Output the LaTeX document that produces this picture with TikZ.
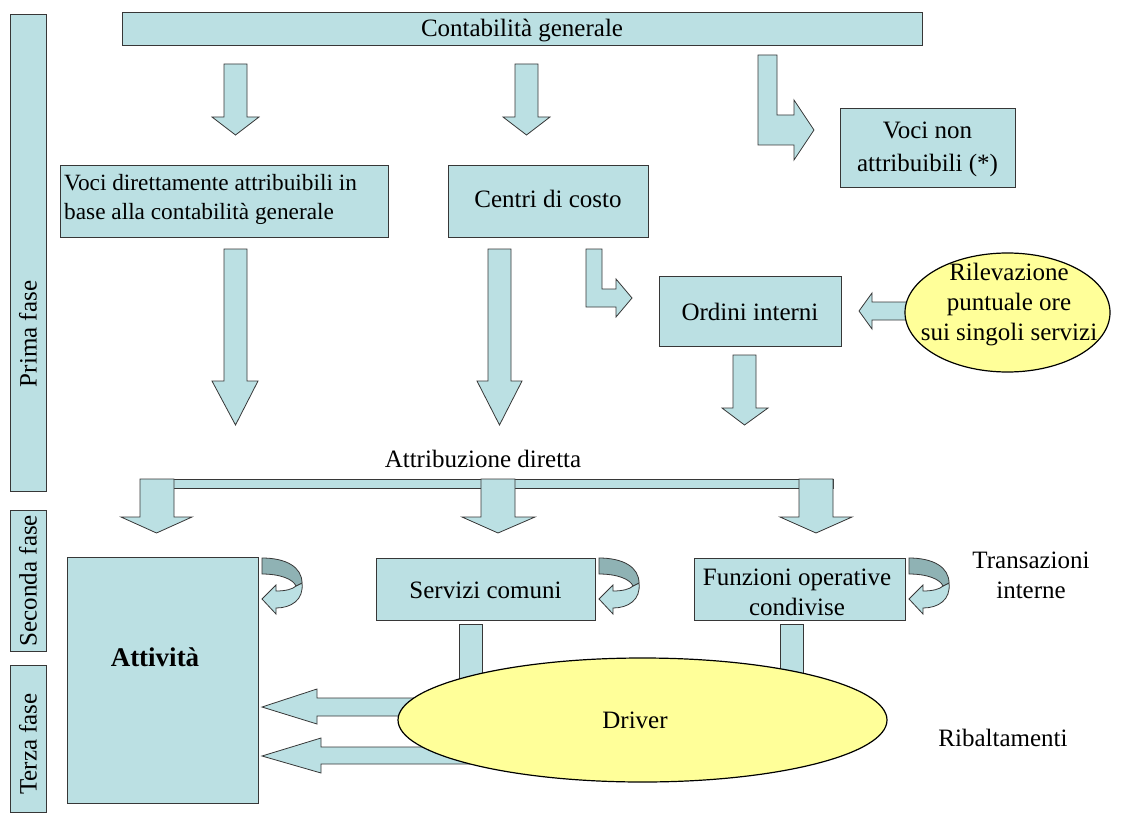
\documentclass[tikz,border=0pt]{standalone}
\usepackage{fontspec}
\setmainfont{Liberation Serif}
\usetikzlibrary{shapes.geometric}
\definecolor{teal1}{RGB}{187,224,227}
\definecolor{tealdark}{RGB}{143,178,180}
\definecolor{yel}{RGB}{255,255,153}
\definecolor{bord}{RGB}{55,55,55}
\tikzset{
  txt/.style={font=\fontsize{25}{30}\selectfont, inner sep=0pt, align=center},
  boxst/.style={draw=bord, fill=teal1, line width=0.8pt, rectangle, inner sep=0pt, font=\fontsize{25}{30}\selectfont, align=center},
  barrow/.style={draw=bord, fill=teal1, line width=0.8pt, line join=miter},
  ellst/.style={draw=black, fill=yel, line width=1.2pt, ellipse, inner sep=0pt},
}
\newcommand\dnarr[8]{% xl xr ytop yback hl hr tipx tipy
  \draw[barrow] (#1,#3) -- (#2,#3) -- (#2,#4) -- (#6,#4) -- (#7,#8) -- (#5,#4) -- (#1,#4) -- cycle;}
\newcommand\curvarr[1]{%
  \begin{scope}[shift={(#1,558)}]
    \draw[barrow] (44,25) .. controls (46,42) and (33,50) .. (18,50) -- (18,56) -- (4,41) -- (18,27) -- (18,33) .. controls (28,33) and (35,31) .. (38,28) -- cycle;
    \draw[draw=bord, fill=tealdark, line width=0.8pt] (4,0) .. controls (28,0) and (44,9) .. (44,25) -- (38,28) .. controls (35,21) and (22,16) .. (4,16) -- cycle;
  \end{scope}}
\begin{document}
\begin{tikzpicture}[x=1pt,y=-1pt]
\useasboundingbox (0,0) rectangle (1131,813);

% phase boxes
\node[boxst, minimum width=36pt, minimum height=477pt] (pf) at (28,252.5) {};
\node[txt, rotate=90] (pft) at (28,334) {Prima fase};
\node[boxst, minimum width=36pt, minimum height=141pt] (sf) at (28,580.5) {};
\node[txt, rotate=90] (sft) at (sf.center) {Seconda fase};
\node[boxst, minimum width=36pt, minimum height=147pt] (tf) at (28,738.5) {};
\node[txt, rotate=90] (tft) at (28,744) {Terza fase};

% top box
\node[boxst, minimum width=800pt, minimum height=33pt] (cg) at (522,28.5) {};
\node[txt] (cgt) at (522,31) {Contabilità generale};

% arrows from top
\dnarr{224}{247}{64}{117}{212}{259}{235.5}{135}
\dnarr{515}{538}{64}{117}{503}{550}{526.5}{135}
\draw[barrow] (758,55) -- (777,55) -- (777,115) -- (794,115) -- (794,100) -- (814,130) -- (794,160) -- (794,145) -- (758,145) -- cycle;

\node[boxst, minimum width=175pt, minimum height=79pt] (vna) at (927.5,147.5) {};
\node[txt] (vnat) at (927.5,149) {Voci non\\[3pt]attribuibili (*)};
\node[boxst, minimum width=328pt, minimum height=72pt] (vda) at (224,201) {};
\node[txt, font=\fontsize{23.3}{29}\selectfont, align=left, anchor=west] (vdat) at (64,199) {Voci direttamente attribuibili in\\base alla contabilità generale};
\node[boxst, minimum width=200pt, minimum height=72pt] (cdc) at (548,201) {};
\node[txt] (cdct) at (548,199) {Centri di costo};

% long arrows
\dnarr{224}{247}{249}{381}{212}{258}{235.5}{425}
\dnarr{488}{511}{249}{381}{477}{522}{499.5}{425}
\draw[barrow] (586,249) -- (602,249) -- (602,289) -- (616,289) -- (616,279) -- (632,298) -- (616,317) -- (616,307) -- (586,307) -- cycle;

\node[boxst, minimum width=182pt, minimum height=70pt] (oi) at (750,311) {};
\node[txt] (oit) at (750,312) {Ordini interni};
\draw[barrow] (915,302) -- (872,302) -- (872,293) -- (859,311) -- (872,329) -- (872,320) -- (915,320);
\node[ellst, minimum width=205pt, minimum height=119pt] (ril) at (1007.5,312.5) {};
\node[txt] (rilt) at (1009,305) {Rilevazione\\puntuale ore\\sui singoli servizi};
\dnarr{733}{756}{355}{408}{722}{768}{744.5}{425}

% attribuzione diretta
\node[txt] (ad) at (483,459) {Attribuzione diretta};
\draw[barrow] (140,479) rectangle (833,488);
\dnarr{140}{174}{479}{517}{121}{192}{156.5}{533}
\dnarr{481}{515}{479}{517}{462}{535}{498}{533}
\dnarr{799}{833}{479}{517}{780}{852}{816}{533}

% second phase boxes
\node[boxst, minimum width=191pt, minimum height=246pt] (att) at (162.5,680) {};
\node[txt, font=\fontsize{27}{31}\selectfont\bfseries] (attt) at (155,657) {Attività};
\node[boxst, minimum width=219pt, minimum height=62pt] (sc) at (485.5,589) {};
\node[txt] (sct) at (485.5,590) {Servizi comuni};
\node[boxst, minimum width=211pt, minimum height=62pt] (foc) at (799.5,589) {};
\node[txt] (foct) at (797,592) {Funzioni operative\\condivise};
\curvarr{258}
\curvarr{595}
\curvarr{905}
\node[txt] (ti) at (1031,575) {Transazioni\\interne};

% shafts and left arrows behind driver
\draw[barrow] (459,624) rectangle (482,710);
\draw[barrow] (780,624) rectangle (803,700);
\draw[barrow] (480,698) -- (317,698) -- (317,689) -- (262,707) -- (317,724) -- (317,716) -- (480,716);
\draw[barrow] (560,747) -- (321,747) -- (321,738) -- (262,756) -- (321,773) -- (321,764) -- (560,764);
\node[ellst, minimum width=489pt, minimum height=124pt] (drv) at (642.5,720) {};
\node[txt] (drvt) at (635,720) {Driver};
\node[txt] (rib) at (1003,738) {Ribaltamenti};
\end{tikzpicture}
\end{document}
